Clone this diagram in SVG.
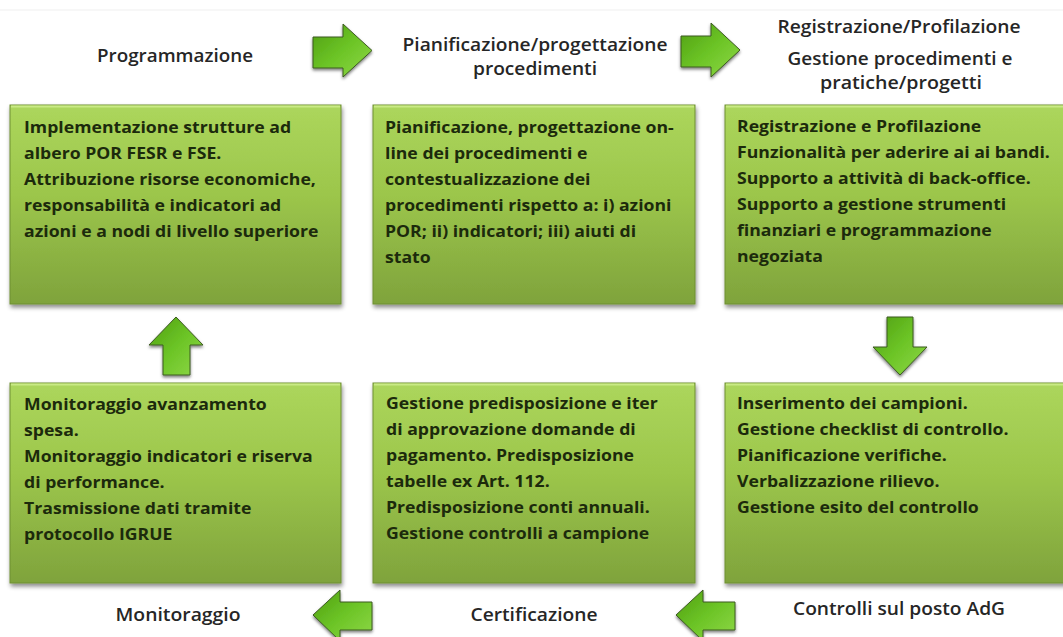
<svg xmlns="http://www.w3.org/2000/svg" width="1063" height="637" viewBox="0 0 1063 637">
  <defs>
    <linearGradient id="boxFill" x1="0" y1="0" x2="0" y2="1">
      <stop offset="0" stop-color="#acd65c"/>
      <stop offset="0.45" stop-color="#9cc64b"/>
      <stop offset="1" stop-color="#7fa33c"/>
    </linearGradient>
    <linearGradient id="arrowFill" x1="0" y1="0" x2="1" y2="1">
      <stop offset="0" stop-color="#4f9e12"/>
      <stop offset="0.5" stop-color="#6cc426"/>
      <stop offset="1" stop-color="#8fd848"/>
    </linearGradient>
    <filter id="shadow" x="-5%" y="-5%" width="112%" height="115%">
      <feDropShadow dx="1" dy="3" stdDeviation="2" flood-color="#000" flood-opacity="0.45"/>
    </filter>
    <filter id="ashadow" x="-20%" y="-20%" width="140%" height="150%">
      <feDropShadow dx="0" dy="2" stdDeviation="1.5" flood-color="#000" flood-opacity="0.5"/>
    </filter>
  </defs>
  <style>
    .box { fill: url(#boxFill); stroke: #6e8f32; stroke-width: 1; filter: url(#shadow); }
    .hl { fill: none; stroke: #c9ea85; stroke-width: 2; }
    .bt { font-family: "Open Sans", "Noto Sans", sans-serif; font-weight: 700; font-size: 16.5px; fill: #1c2a0c; }
    .title { font-family: "Open Sans", "Noto Sans", sans-serif; font-weight: 600; font-size: 18px; fill: #262626; text-anchor: middle; }
    .arrow { fill: url(#arrowFill); stroke: #3d5a22; stroke-width: 1; filter: url(#ashadow); }
  </style>
  <rect width="1063" height="637" fill="#ffffff"/>
  <line x1="0" y1="10" x2="1063" y2="10" stroke="#efefef" stroke-width="1"/>

  <g id="titles">
    <text class="title" x="175" y="62" textLength="156" lengthAdjust="spacingAndGlyphs">Programmazione</text>
    <text class="title" x="535" y="51" style="font-size:17.5px" textLength="265" lengthAdjust="spacingAndGlyphs">Pianificazione/progettazione</text>
    <text class="title" x="535" y="75" style="font-size:17.5px" textLength="124" lengthAdjust="spacingAndGlyphs">procedimenti</text>
    <text class="title" x="899" y="33" textLength="243" lengthAdjust="spacingAndGlyphs">Registrazione/Profilazione</text>
    <text class="title" x="900" y="65" style="font-size:17.5px" textLength="225" lengthAdjust="spacingAndGlyphs">Gestione procedimenti e</text>
    <text class="title" x="901" y="89" style="font-size:17.5px" textLength="162" lengthAdjust="spacingAndGlyphs">pratiche/progetti</text>
    <text class="title" x="178" y="621" textLength="125" lengthAdjust="spacingAndGlyphs">Monitoraggio</text>
    <text class="title" x="534" y="621" textLength="127" lengthAdjust="spacingAndGlyphs">Certificazione</text>
    <text class="title" x="899" y="615" textLength="212" lengthAdjust="spacingAndGlyphs">Controlli sul posto AdG</text>
  </g>

  <g id="node-programmazione">
    <rect class="box" x="10" y="105" width="331" height="199"/>
    <line class="hl" x1="11" y1="106.5" x2="340" y2="106.5"/>
    <g transform="translate(24,0) scale(1.07,1)">
      <text class="bt" x="0" y="133">Implementazione strutture ad</text>
      <text class="bt" x="0" y="159">albero POR FESR e FSE.</text>
      <text class="bt" x="0" y="185">Attribuzione risorse economiche,</text>
      <text class="bt" x="0" y="211">responsabilità e indicatori ad</text>
      <text class="bt" x="0" y="237">azioni e a nodi  di livello superiore</text>
    </g>
  </g>

  <g id="node-pianificazione">
    <rect class="box" x="373" y="105" width="322" height="199"/>
    <line class="hl" x1="374" y1="106.5" x2="694" y2="106.5"/>
    <g transform="translate(385,0) scale(1.07,1)">
      <text class="bt" x="0" y="133">Pianificazione, progettazione on-</text>
      <text class="bt" x="0" y="159">line dei procedimenti e</text>
      <text class="bt" x="0" y="185">contestualizzazione dei</text>
      <text class="bt" x="0" y="211">procedimenti rispetto a: i) azioni</text>
      <text class="bt" x="0" y="237">POR; ii) indicatori; iii) aiuti di</text>
      <text class="bt" x="0" y="263">stato</text>
    </g>
  </g>

  <g id="node-registrazione">
    <rect class="box" x="725" y="105" width="345" height="199"/>
    <line class="hl" x1="726" y1="106.5" x2="1063" y2="106.5"/>
    <g transform="translate(737,0) scale(1.07,1)">
      <text class="bt" x="0" y="132">Registrazione e Profilazione</text>
      <text class="bt" x="0" y="158">Funzionalità per aderire ai ai bandi.</text>
      <text class="bt" x="0" y="184">Supporto a attività di back-office.</text>
      <text class="bt" x="0" y="210">Supporto a gestione strumenti</text>
      <text class="bt" x="0" y="236">finanziari e programmazione</text>
      <text class="bt" x="0" y="262">negoziata</text>
    </g>
  </g>

  <g id="node-monitoraggio">
    <rect class="box" x="10" y="383" width="331" height="200"/>
    <line class="hl" x1="11" y1="384.5" x2="340" y2="384.5"/>
    <g transform="translate(24,0) scale(1.07,1)">
      <text class="bt" x="0" y="410">Monitoraggio avanzamento</text>
      <text class="bt" x="0" y="436">spesa.</text>
      <text class="bt" x="0" y="462">Monitoraggio indicatori e riserva</text>
      <text class="bt" x="0" y="488">di performance.</text>
      <text class="bt" x="0" y="514">Trasmissione dati tramite</text>
      <text class="bt" x="0" y="540">protocollo IGRUE</text>
    </g>
  </g>

  <g id="node-certificazione">
    <rect class="box" x="373" y="383" width="322" height="200"/>
    <line class="hl" x1="374" y1="384.5" x2="694" y2="384.5"/>
    <g transform="translate(386,0) scale(1.07,1)">
      <text class="bt" x="0" y="409">Gestione predisposizione e iter</text>
      <text class="bt" x="0" y="435">di approvazione domande di</text>
      <text class="bt" x="0" y="461">pagamento. Predisposizione</text>
      <text class="bt" x="0" y="487">tabelle ex Art. 112.</text>
      <text class="bt" x="0" y="513">Predisposizione conti annuali.</text>
      <text class="bt" x="0" y="539">Gestione controlli a campione</text>
    </g>
  </g>

  <g id="node-controlli">
    <rect class="box" x="725" y="383" width="345" height="200"/>
    <line class="hl" x1="726" y1="384.5" x2="1063" y2="384.5"/>
    <g transform="translate(737,0) scale(1.07,1)">
      <text class="bt" x="0" y="409">Inserimento dei campioni.</text>
      <text class="bt" x="0" y="435">Gestione checklist di controllo.</text>
      <text class="bt" x="0" y="461">Pianificazione verifiche.</text>
      <text class="bt" x="0" y="487">Verbalizzazione rilievo.</text>
      <text class="bt" x="0" y="513">Gestione esito del controllo</text>
    </g>
  </g>

  <g id="connectors">
    <path class="arrow" d="M313,37 H343 V24 L372,50.5 L343,77 V68 H313 Z"/>
    <path class="arrow" d="M681,36 H711 V23 L740,50 L711,77 V67 H681 Z"/>
    <path class="arrow" d="M887,317 H913 V347 H927 L900,375 L873,347 H887 Z"/>
    <path class="arrow" d="M372,602 V630 H340 V641 L313,615 L340,590 V602 Z"/>
    <path class="arrow" d="M735,602 V630 H703 V641 L676,615 L703,590 V602 Z"/>
    <path class="arrow" d="M176,317 L203,345 H190 V375 H163 V345 H149 Z"/>
  </g>
</svg>
